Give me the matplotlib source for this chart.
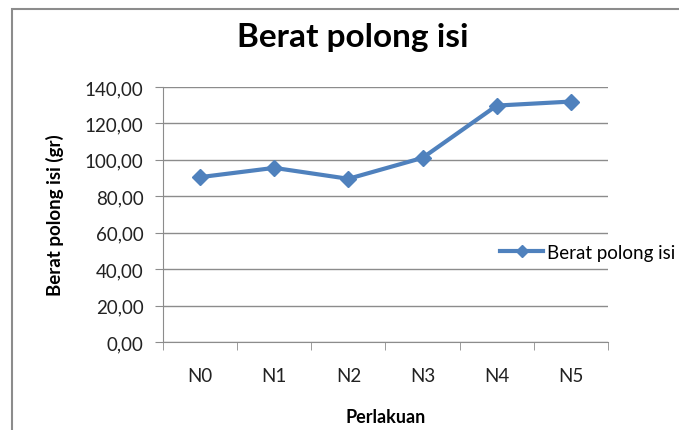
import matplotlib
import matplotlib.pyplot as plt
from matplotlib.patches import Rectangle
from matplotlib.ticker import FixedLocator, FuncFormatter

matplotlib.use("Agg")

# data
categories = ["N0", "N1", "N2", "N3", "N4", "N5"]
values = [90.5, 95.6, 89.6, 101.1, 129.8, 132.0]
y_ticks = [0, 20, 40, 60, 80, 100, 120, 140]

plt.rcParams["font.family"] = ["Lato", "DejaVu Sans"]

W, H = 679, 431
fig = plt.figure(figsize=(W / 100, H / 100), dpi=100)

# outer chart frame (runs off the right and bottom edges)
fig.patches.append(
    Rectangle((12 / W, -0.1), 1.1, 1.1 - 10 / H, transform=fig.transFigure,
              fill=False, edgecolor="#8c8c8c", linewidth=1.5)
)

# plot area in pixels: x 163..608, y 88..343
ax = fig.add_axes([163 / W, (H - 343) / H, 445 / W, 255 / H])

x = range(len(categories))
ax.plot(x, values, color="#4F81BD", linewidth=3, marker="D", markersize=8,
        label="Berat polong isi")

ax.set_xlim(-0.5, len(categories) - 0.5)
ax.set_ylim(0, 140)
ax.set_yticks(y_ticks)
ax.yaxis.set_major_formatter(FuncFormatter(lambda v, p: f"{v:.2f}".replace(".", ",")))
ax.set_xticks(list(x))
ax.set_xticklabels(categories)
ax.xaxis.set_minor_locator(FixedLocator([i - 0.5 for i in range(len(categories) + 1)]))

ax.grid(axis="y", color="#8c8c8c", linewidth=1)
ax.set_axisbelow(True)
for s in ["top", "right"]:
    ax.spines[s].set_visible(False)
for s in ["left", "bottom"]:
    ax.spines[s].set_color("#8c8c8c")
ax.tick_params(axis="y", length=6, color="#8c8c8c", labelsize=13.5, labelcolor="#222222", pad=8)
ax.tick_params(axis="x", which="major", length=0, labelsize=13.5, labelcolor="#222222", pad=18)
ax.tick_params(axis="x", which="minor", length=6, color="#8c8c8c")

ax.set_xlabel("Perlakuan", fontsize=13, fontweight="bold", labelpad=17)
ax.set_ylabel("Berat polong isi (gr)", fontsize=13.5, fontweight="bold", labelpad=15)

fig.text(353 / W, 1 - 37 / H, "Berat polong isi", ha="center", va="center",
         fontsize=24, fontweight="bold")

ax.legend(loc="center left", bbox_to_anchor=((500 - 163) / 445, (343 - 253) / 255),
          frameon=False, fontsize=13.5, handlelength=2.3, handletextpad=0.2,
          borderaxespad=0, borderpad=0, markerscale=0.75)

fig.savefig("out.png", dpi=100)
